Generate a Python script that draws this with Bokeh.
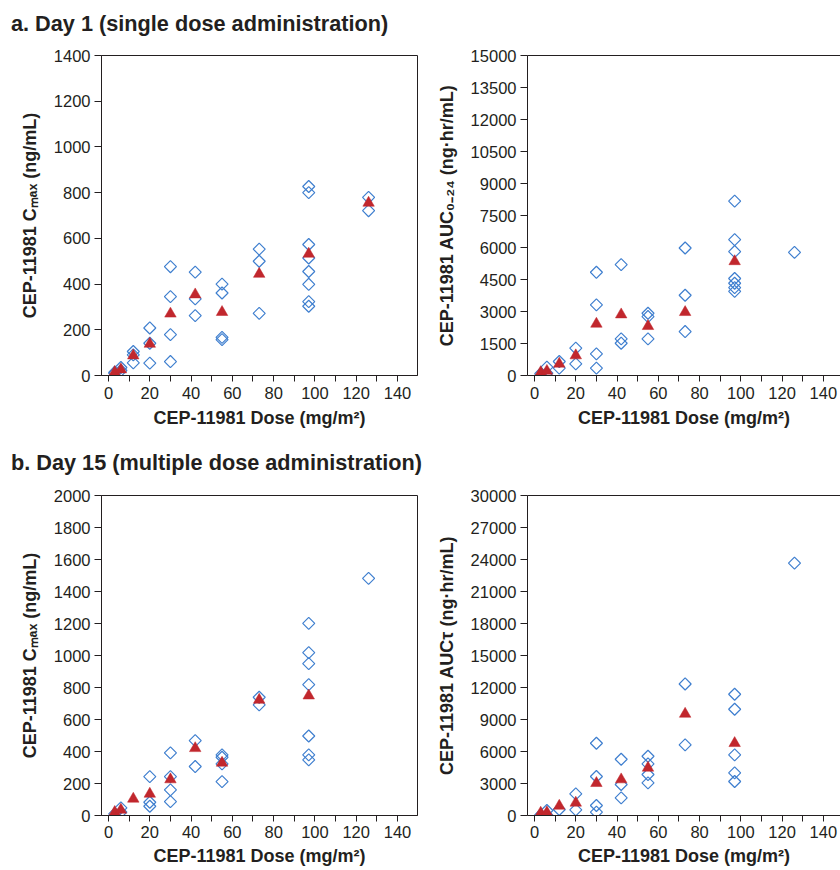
import math
from bokeh.plotting import figure
from bokeh.layouts import column, row
from bokeh.models import Div, Range1d, FixedTicker, LinearAxis
from bokeh.embed import file_html
from bokeh.resources import INLINE

# ---------------- data ----------------
DOSES = [3, 6, 12, 20, 30, 42, 55, 73, 97, 126]

DAY1_CMAX_INDIVIDUAL = [
    [10, 14], [22, 35], [105, 90, 55], [208, 141, 54], [476, 345, 179, 61],
    [452, 335, 262], [400, 361, 167, 157], [553, 500, 272],
    [827, 800, 573, 514, 455, 399, 323, 303], [779, 721],
]
DAY1_CMAX_MEAN = [15, 26, 87, 138, 270, 354, 277, 444, 532, 755]

DAY1_AUC_INDIVIDUAL = [
    [80], [391, 109], [656, 344], [1280, 547], [4838, 3309, 1014, 343],
    [5197, 1717, 1514], [2919, 2763, 1717], [5978, 3761, 2060],
    [8175, 6370, 5810, 4545, 4325, 4120, 3945], [5770],
]
DAY1_AUC_MEAN = [150, 210, 547, 937, 2419, 2856, 2310, 2966, 5350, None]

DAY15_CMAX_INDIVIDUAL = [
    [10], [48, 21], [], [243, 83, 58], [391, 243, 160, 87], [468, 306],
    [379, 364, 323, 212], [739, 691], [1201, 1018, 949, 818, 497, 379, 348],
    [1482],
]
DAY15_CMAX_MEAN = [21, 35, 104, 135, 225, 420, 329, 722, 749, None]

DAY15_AUC_INDIVIDUAL = [
    [50], [470, 30], [560], [2031, 531], [6775, 3653, 937, 312],
    [5276, 2903, 1655], [5557, 4839, 3840, 3060], [12332, 6619],
    [11364, 9959, 5682, 3996, 3184], [23665],
]
DAY15_AUC_MEAN = [250, 281, 900, 1187, 3028, 3372, 4465, 9522, 6775, None]

X_TICKS = [0, 20, 40, 60, 80, 100, 120, 140]
X_MINOR_TICKS = [10, 30, 50, 70, 90, 110, 130, 150]
DAY1_CMAX_TICKS = [0, 200, 400, 600, 800, 1000, 1200, 1400]
DAY1_AUC_TICKS = [0, 1500, 3000, 4500, 6000, 7500, 9000, 10500, 12000, 13500, 15000]
DAY15_CMAX_TICKS = [0, 200, 400, 600, 800, 1000, 1200, 1400, 1600, 1800, 2000]
DAY15_AUC_TICKS = [0, 3000, 6000, 9000, 12000, 15000, 18000, 21000, 24000, 27000, 30000]

X_LABEL = "CEP-11981 Dose (mg/m²)"
TITLE_A = "a. Day 1 (single dose administration)"
TITLE_B = "b. Day 15 (multiple dose administration)"

# ---------------- styles ----------------
BLUE = "#3f7fcf"
RED = "#c1272d"
INK = "#231f20"
FONT = "Liberation Sans"


def panel(individual, mean, y_ticks, y_label, x_range, width, height,
          b_left, b_right, b_top, b_bottom, boxed, x_std, x_lbl_std):
    p = figure(width=width, height=height,
               x_range=Range1d(*x_range), y_range=Range1d(y_ticks[0], y_ticks[-1]),
               output_backend="svg", toolbar_location=None,
               min_border_left=b_left, min_border_right=b_right,
               min_border_top=b_top, min_border_bottom=b_bottom,
               background_fill_color="white", border_fill_color="white")
    p.xgrid.visible = False
    p.ygrid.visible = False

    xs = [d for d, vals in zip(DOSES, individual) for _ in vals]
    ys = [v for vals in individual for v in vals]
    p.scatter(xs, ys, marker="square", angle=math.pi / 4, size=8.5,
              fill_color=None, line_color=BLUE, line_width=1.2)
    mx = [d for d, m in zip(DOSES, mean) if m is not None]
    my = [m for m in mean if m is not None]
    p.scatter(mx, my, marker="triangle", size=11.5,
              fill_color=RED, line_color=RED, line_width=0.5)

    xa = p.below[0]
    ya = p.left[0]
    xa.ticker = FixedTicker(ticks=X_TICKS, minor_ticks=X_MINOR_TICKS)
    xa.axis_label = X_LABEL
    ya.ticker = FixedTicker(ticks=y_ticks, minor_ticks=[])
    ya.axis_label = y_label
    for ax in (xa, ya):
        ax.axis_line_color = INK
        ax.axis_line_width = 1
        ax.major_tick_line_color = INK
        ax.minor_tick_line_color = INK
        ax.major_tick_in = 0
        ax.minor_tick_in = 0
        ax.major_label_text_font = FONT
        ax.major_label_text_font_size = "16.5px"
        ax.major_label_text_color = INK
        ax.axis_label_text_font = FONT
        ax.axis_label_text_font_size = "18px"
        ax.axis_label_text_font_style = "bold"
        ax.axis_label_text_color = INK
    xa.major_tick_out = 6
    xa.minor_tick_out = 6
    xa.major_label_standoff = x_std
    xa.axis_label_standoff = x_lbl_std
    ya.major_tick_out = 7
    ya.minor_tick_out = 0
    ya.major_label_standoff = 4
    ya.axis_label_standoff = 11

    if boxed:
        p.outline_line_color = INK
        p.outline_line_width = 1
        p.outline_line_alpha = 1
    else:
        p.outline_line_color = None
        top = LinearAxis(ticker=FixedTicker(ticks=[], minor_ticks=[]),
                         major_label_text_font_size="0px", major_label_standoff=0,
                         major_tick_line_color=None, minor_tick_line_color=None,
                         major_tick_out=0, major_tick_in=0,
                         axis_line_color=INK, axis_line_width=1)
        p.add_layout(top, "above")
    return p


def title_div(text, height, pad_top, line_h):
    style = ("font-family: 'Liberation Sans', Arial, sans-serif; font-size: 21.7px; "
             "font-weight: bold; color: %s; white-space: nowrap; padding-left: 11px; "
             "padding-top: %dpx; line-height: %dpx;" % (INK, pad_top, line_h))
    return Div(text='<div style="%s">%s</div>' % (style, text),
               width=840, height=height, margin=0)


LEFT_X = (-3.4, 149.7)
RIGHT_X = (-3.4, 148.3)

f1 = panel(DAY1_CMAX_INDIVIDUAL, DAY1_CMAX_MEAN, DAY1_CMAX_TICKS,
           "CEP-11981 Cₘₐₓ (ng/mL)", LEFT_X, 420, 400, 101, 3, 15, 65, True, 5, 6)
f2 = panel(DAY1_AUC_INDIVIDUAL, DAY1_AUC_MEAN, DAY1_AUC_TICKS,
           "CEP-11981 AUC₀₋₂₄ (ng·hr/mL)", RIGHT_X, 420, 400, 107, 0, 15, 65, False, 5, 6)
f3 = panel(DAY15_CMAX_INDIVIDUAL, DAY15_CMAX_MEAN, DAY15_CMAX_TICKS,
           "CEP-11981 Cₘₐₓ (ng/mL)", LEFT_X, 420, 390, 101, 3, 15, 55, True, 4, 5)
f4 = panel(DAY15_AUC_INDIVIDUAL, DAY15_AUC_MEAN, DAY15_AUC_TICKS,
           "CEP-11981 AUCτ (ng·hr/mL)", RIGHT_X, 420, 390, 107, 0, 15, 55, False, 4, 5)

layout = column(
    title_div(TITLE_A, 40, 11, 26),
    row(f1, f2, spacing=0),
    title_div(TITLE_B, 40, 10, 26),
    row(f3, f4, spacing=0),
    spacing=0,
)

open("out.html", "w").write(file_html(layout, INLINE))
